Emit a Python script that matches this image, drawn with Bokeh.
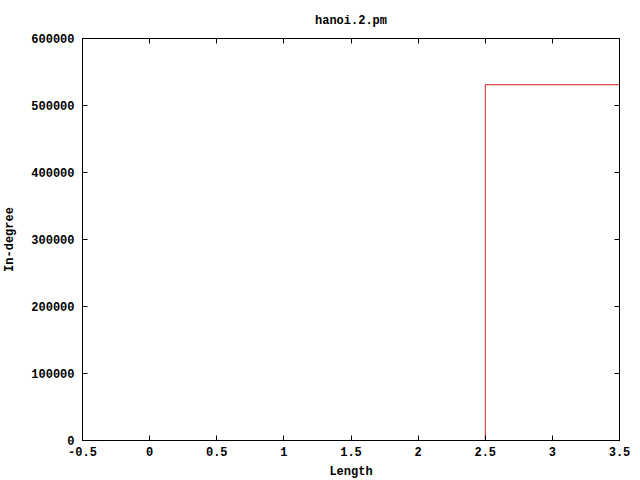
from bokeh.plotting import figure
from bokeh.models import LinearAxis, FixedTicker, Range1d, NumeralTickFormatter
from bokeh.embed import file_html
from bokeh.resources import INLINE

# data
lengths = [3]
indegree = [531000]
x_ticks = [-0.5, 0, 0.5, 1, 1.5, 2, 2.5, 3, 3.5]
y_ticks = [0, 100000, 200000, 300000, 400000, 500000, 600000]

FONT = "Liberation Mono"
FS = "12px"

p = figure(frame_width=537, frame_height=402, output_backend="svg", toolbar_location=None,
           x_range=Range1d(-0.5, 3.5), y_range=Range1d(0, 600000),
           title="hanoi.2.pm", x_axis_label="Length", y_axis_label="In-degree",
           min_border_left=75, min_border_right=12, min_border_top=38, min_border_bottom=30)

p.title.align = "center"
p.title.text_font = FONT
p.title.text_font_size = FS
p.title.text_font_style = "bold"
p.title.text_color = "black"
p.title.standoff = 22

p.xgrid.visible = False
p.ygrid.visible = False
p.outline_line_color = "black"
p.outline_line_width = 1
p.outline_line_alpha = 1

for ax in [p.xaxis[0], p.yaxis[0]]:
    ax.major_tick_in = 5
    ax.major_tick_out = 0
    ax.minor_tick_in = 0
    ax.minor_tick_out = 0
    ax.axis_line_color = "black"
    ax.major_tick_line_color = "black"
    ax.major_label_text_font = FONT
    ax.major_label_text_font_size = FS
    ax.major_label_text_font_style = "bold"
    ax.major_label_text_color = "black"
    ax.axis_label_text_font = FONT
    ax.axis_label_text_font_size = FS
    ax.axis_label_text_font_style = "bold"
    ax.axis_label_text_color = "black"

p.xaxis[0].ticker = FixedTicker(ticks=x_ticks)
p.xaxis[0].major_label_overrides = {-0.5: "-0.5"}
p.xaxis[0].major_label_standoff = 6
p.xaxis[0].axis_label_standoff = 6
p.yaxis[0].ticker = FixedTicker(ticks=y_ticks)
p.yaxis[0].formatter = NumeralTickFormatter(format="0")
p.yaxis[0].major_label_standoff = 8
p.yaxis[0].axis_label_standoff = 11

# mirrored ticks on top and right (no labels)
blank_x = {t: "" for t in x_ticks}
blank_y = {t: "" for t in y_ticks}
top = LinearAxis(ticker=FixedTicker(ticks=x_ticks), major_label_overrides=blank_x,
                 major_tick_in=5, major_tick_out=0, minor_tick_in=0, minor_tick_out=0,
                 major_label_standoff=0, axis_line_color="black")
right = LinearAxis(ticker=FixedTicker(ticks=y_ticks), major_label_overrides=blank_y,
                   major_tick_in=5, major_tick_out=0, minor_tick_in=0, minor_tick_out=0,
                   major_label_standoff=0, axis_line_color="black")
p.add_layout(top, "above")
p.add_layout(right, "right")

lefts = [v - 0.5 for v in lengths]
rights = [v + 0.5 for v in lengths]
p.quad(left=lefts, right=rights, bottom=[0] * len(lengths), top=indegree,
       fill_color=None, line_color="#d41e1e", line_width=1)

open("out.html", "w").write(file_html(p, INLINE))
